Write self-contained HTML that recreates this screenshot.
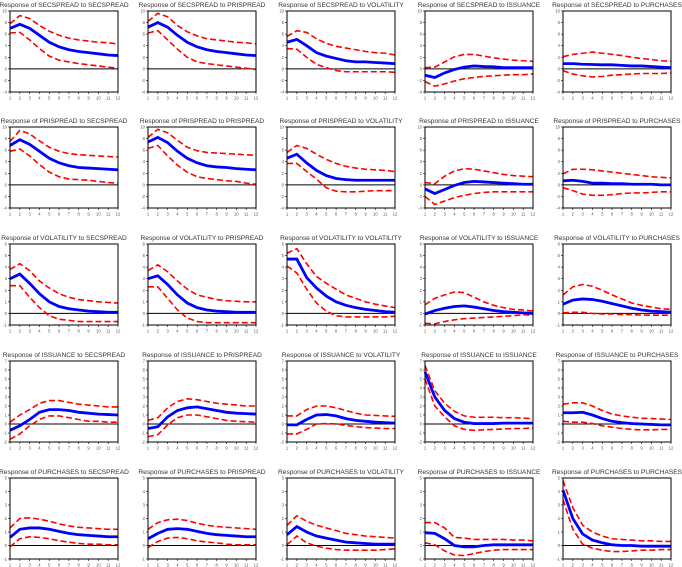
<!DOCTYPE html>
<html><head><meta charset="utf-8">
<style>
html,body{margin:0;padding:0;background:#fff;}
svg{display:block;}
text{font-family:"Liberation Sans",sans-serif;}
</style></head>
<body>
<svg id="chart" width="682" height="567" viewBox="0 0 682 567" xmlns="http://www.w3.org/2000/svg"></svg>
<script>
const varNames = ["SECSPREAD","PRISPREAD","VOLATILITY","ISSUANCE","PURCHASES"];
const periods = [1,2,3,4,5,6,7,8,9,10,11,12];
const rowYMin = [-4,-4,-1,-2,-1];
const rowYMax = [10,10,6,7,5];
const rowYStep = [2,2,1,1,1];

const meanSeries = [
 [[7.0,7.7,7.0,5.8,4.6,3.8,3.3,3.0,2.8,2.6,2.4,2.3],
  [7.2,8.0,7.2,5.8,4.6,3.8,3.3,3.0,2.8,2.6,2.4,2.3],
  [4.6,5.1,4.0,2.8,2.2,1.8,1.4,1.2,1.2,1.1,1.0,0.9],
  [-1.1,-1.5,-0.7,-0.1,0.3,0.5,0.4,0.35,0.2,0.2,0.2,0.2],
  [0.9,0.9,0.8,0.75,0.7,0.7,0.6,0.5,0.5,0.4,0.3,0.2]],
 [[6.8,7.8,7.0,5.8,4.6,3.8,3.3,3.0,2.9,2.8,2.7,2.6],
  [7.4,8.2,7.3,5.8,4.6,3.8,3.3,3.1,3.0,2.8,2.7,2.6],
  [4.6,5.3,3.8,2.5,1.6,1.1,0.9,0.8,0.8,0.8,0.8,0.8],
  [-0.7,-1.5,-0.8,-0.1,0.4,0.6,0.5,0.4,0.3,0.2,0.1,0.1],
  [0.7,0.8,0.6,0.3,0.3,0.2,0.2,0.1,0.1,0.1,0,0]],
 [[3.0,3.4,2.6,1.7,1.0,0.6,0.4,0.3,0.2,0.15,0.1,0.1],
  [3.0,3.25,2.5,1.6,0.9,0.5,0.3,0.2,0.15,0.1,0.1,0.1],
  [4.7,4.7,3.1,2.2,1.5,1.0,0.7,0.5,0.35,0.25,0.15,0.1],
  [-0.05,0.25,0.45,0.6,0.65,0.55,0.4,0.25,0.15,0.1,0.05,0.0],
  [0.8,1.15,1.25,1.2,1.05,0.85,0.65,0.45,0.3,0.2,0.15,0.1]],
 [[-0.7,-0.2,0.5,1.3,1.6,1.6,1.5,1.3,1.2,1.1,1.05,1.0],
  [-0.5,-0.3,0.8,1.5,1.8,1.9,1.7,1.5,1.3,1.2,1.15,1.1],
  [-0.1,-0.1,0.5,1.0,1.05,0.9,0.6,0.4,0.3,0.2,0.15,0.1],
  [5.8,3.0,1.5,0.6,0.2,0.05,0.05,0.05,0.1,0.1,0.1,0.1],
  [1.25,1.25,1.3,1.0,0.6,0.3,0.15,0.05,0,-0.05,-0.1,-0.1]],
 [[0.6,1.2,1.3,1.3,1.2,1.05,0.9,0.8,0.75,0.7,0.65,0.65],
  [0.5,0.9,1.2,1.25,1.2,1.05,0.9,0.8,0.75,0.7,0.65,0.65],
  [0.8,1.4,1.0,0.7,0.55,0.4,0.25,0.2,0.15,0.1,0.1,0.1],
  [0.95,0.9,0.5,0.0,-0.1,-0.1,0.0,0.05,0.05,0.05,0.05,0.05],
  [4.1,2.0,0.85,0.4,0.2,0.05,0,0,-0.05,-0.05,-0.05,-0.05]]
];
const upperSeries = [
 [[7.8,9.2,8.7,7.5,6.5,5.8,5.3,5.0,4.8,4.6,4.5,4.3],
  [8.2,9.6,9.0,7.5,6.4,5.7,5.2,5.0,4.8,4.6,4.5,4.3],
  [5.6,6.6,6.3,5.2,4.4,3.9,3.6,3.3,3.0,2.8,2.7,2.4],
  [0.2,0.3,1.2,2.1,2.5,2.5,2.2,1.9,1.7,1.5,1.4,1.3],
  [2.1,2.5,2.7,2.9,2.7,2.5,2.3,2.0,1.8,1.6,1.4,1.3]],
 [[7.5,9.4,8.8,7.6,6.5,5.8,5.4,5.2,5.1,5.0,4.9,4.8],
  [8.2,9.6,9.0,7.7,6.5,5.9,5.6,5.5,5.4,5.3,5.2,5.1],
  [5.6,6.8,6.3,5.3,4.4,3.7,3.2,2.9,2.7,2.6,2.5,2.3],
  [0.4,0.2,1.5,2.4,2.8,2.7,2.4,2.1,1.8,1.6,1.5,1.4],
  [1.9,2.7,2.7,2.6,2.4,2.2,2.0,1.8,1.6,1.4,1.3,1.2]],
 [[3.8,4.3,3.7,2.8,2.2,1.7,1.4,1.2,1.1,1.0,0.95,0.9],
  [3.7,4.2,3.6,2.8,2.1,1.6,1.4,1.2,1.1,1.05,1.0,1.0],
  [5.2,5.6,4.3,3.2,2.6,2.1,1.6,1.3,1.0,0.8,0.65,0.5],
  [0.75,1.3,1.6,1.85,1.8,1.4,1.0,0.7,0.5,0.35,0.3,0.2],
  [1.6,2.3,2.5,2.35,2.0,1.6,1.25,0.9,0.7,0.55,0.4,0.35]],
 [[0.2,1.0,1.6,2.3,2.6,2.6,2.4,2.2,2.1,2.0,1.9,1.9],
  [0.4,0.7,1.8,2.5,2.8,2.7,2.5,2.3,2.2,2.1,2.0,2.0],
  [0.9,0.9,1.6,2.0,2.0,1.8,1.5,1.2,1.0,0.95,0.9,0.85],
  [6.5,3.7,2.3,1.4,0.9,0.75,0.75,0.75,0.7,0.7,0.65,0.6],
  [2.2,2.35,2.35,2.0,1.5,1.1,0.9,0.75,0.65,0.6,0.55,0.5]],
 [[1.3,2.0,2.05,1.95,1.8,1.6,1.45,1.35,1.3,1.25,1.2,1.2],
  [1.2,1.7,1.9,1.95,1.85,1.65,1.5,1.4,1.35,1.3,1.25,1.2],
  [1.5,2.2,1.8,1.5,1.3,1.1,0.9,0.8,0.7,0.65,0.6,0.55],
  [1.7,1.7,1.3,0.6,0.55,0.45,0.45,0.45,0.45,0.4,0.4,0.35],
  [4.8,2.8,1.5,1.0,0.7,0.5,0.45,0.4,0.35,0.35,0.3,0.3]]
];
const lowerSeries = [
 [[6.2,6.3,5.0,3.5,2.2,1.5,1.2,0.9,0.7,0.5,0.3,0.1],
  [6.2,6.6,5.0,3.4,2.0,1.2,0.9,0.7,0.5,0.3,0.1,-0.1],
  [3.5,3.4,2.0,0.8,0.2,-0.3,-0.5,-0.5,-0.5,-0.5,-0.5,-0.6],
  [-2.2,-3.0,-2.6,-2.1,-1.7,-1.5,-1.3,-1.2,-1.1,-1.0,-1.0,-0.9],
  [-0.3,-0.9,-1.2,-1.4,-1.3,-1.1,-1.0,-0.9,-0.8,-0.8,-0.8,-0.7]],
 [[5.8,6.2,5.0,3.5,2.2,1.4,1.0,0.9,0.8,0.6,0.4,0.3],
  [6.3,6.8,5.0,3.4,2.2,1.4,1.1,0.9,0.7,0.6,0.3,0.1],
  [3.7,3.7,2.3,1.0,-0.5,-1.1,-1.2,-1.2,-1.1,-1.0,-1.0,-1.0],
  [-2.0,-3.4,-2.8,-2.2,-1.8,-1.5,-1.3,-1.2,-1.2,-1.2,-1.2,-1.2],
  [-0.5,-1.0,-1.6,-1.8,-1.8,-1.7,-1.5,-1.4,-1.4,-1.3,-1.2,-1.2]],
 [[2.4,2.4,1.4,0.5,-0.2,-0.5,-0.6,-0.7,-0.7,-0.7,-0.7,-0.7],
  [2.3,2.3,1.3,0.3,-0.4,-0.7,-0.8,-0.8,-0.8,-0.8,-0.8,-0.8],
  [4.1,3.5,2.1,0.9,0.2,-0.2,-0.3,-0.3,-0.3,-0.3,-0.3,-0.25],
  [-0.85,-0.9,-0.7,-0.55,-0.45,-0.4,-0.35,-0.3,-0.25,-0.2,-0.1,-0.15],
  [0.05,0.1,0.1,0.0,-0.05,-0.05,-0.1,-0.1,-0.15,-0.15,-0.15,-0.15]],
 [[-1.7,-1.1,-0.2,0.5,0.9,0.9,0.7,0.5,0.3,0.3,0.2,0.2],
  [-1.4,-1.2,-0.1,0.7,1.0,1.0,0.8,0.6,0.4,0.3,0.25,0.2],
  [-1.1,-1.1,-0.6,0.0,0.05,0.0,-0.15,-0.3,-0.4,-0.45,-0.5,-0.5],
  [5.0,2.0,0.8,-0.2,-0.6,-0.7,-0.65,-0.6,-0.55,-0.5,-0.5,-0.45],
  [0.3,0.2,0.2,0.05,-0.2,-0.35,-0.5,-0.6,-0.65,-0.65,-0.6,-0.6]],
 [[-0.1,0.5,0.65,0.6,0.5,0.35,0.25,0.15,0.1,0.1,0.05,0.05],
  [-0.15,0.3,0.55,0.6,0.5,0.35,0.25,0.2,0.1,0.05,0.05,0.05],
  [0.05,0.7,0.2,-0.05,-0.2,-0.3,-0.35,-0.35,-0.35,-0.35,-0.3,-0.25],
  [0.2,0.05,-0.4,-0.7,-0.75,-0.6,-0.45,-0.35,-0.3,-0.3,-0.3,-0.3],
  [3.4,1.2,0.1,-0.2,-0.35,-0.45,-0.45,-0.4,-0.35,-0.35,-0.3,-0.3]]
];

const NS = "http://www.w3.org/2000/svg";
const svg = document.getElementById("chart");
const colLeft = [10,148,287,425,563];
const rowTop = [11,127,244,361,478];
const PW = 108, PH = 81;

function mk(tag, attrs, parent){
  const e = document.createElementNS(NS, tag);
  for (const k in attrs) e.setAttribute(k, attrs[k]);
  parent.appendChild(e);
  return e;
}

for (let r = 0; r < 5; r++) {
  for (let c = 0; c < 5; c++) {
    const L = colLeft[c], T = rowTop[r];
    const yMin = rowYMin[r], yMax = rowYMax[r];
    const xScale = p => L + (p - 1) / (periods.length - 1) * PW;
    const yScale = v => T + (yMax - v) / (yMax - yMin) * PH;
    const g = mk("g", {}, svg);
    
    

    const t = mk("text", {x: L + PW/2, y: T - 4, "text-anchor": "middle", "font-size": "6.6", fill: "#333"}, g);
    t.textContent = "Response of " + varNames[r] + " to " + varNames[c];
    
    

    for (let v = yMin; v <= yMax + 1e-9; v += rowYStep[r]) {
      const y = yScale(v);
      mk("line", {x1: L - 2, x2: L, y1: y, y2: y, stroke: "#000", "stroke-width": "0.6"}, g);
      const yl = mk("text", {x: L - 3, y: y + 1.5, "text-anchor": "end", "font-size": "4.2", fill: "#555"}, g);
      yl.textContent = String(v);
      
      
    }
    periods.forEach(p => {
      const x = xScale(p);
      mk("line", {x1: x, x2: x, y1: T + PH, y2: T + PH + 2, stroke: "#000", "stroke-width": "0.6"}, g);
      const xl = mk("text", {x: x, y: T + PH + 7.5, "text-anchor": "middle", "font-size": "4.2", fill: "#555"}, g);
      xl.textContent = String(p);
      
      
    });

    const z = mk("line", {x1: L, x2: L + PW, y1: yScale(0), y2: yScale(0), stroke: "#000", "stroke-width": "1"}, g);
    
    

    const pts = arr => arr.map((v, i) => xScale(periods[i]).toFixed(2) + "," + yScale(v).toFixed(2)).join(" ");
    const up = mk("polyline", {points: pts(upperSeries[r][c]), fill: "none", stroke: "#ff0000", "stroke-width": "1.6", "stroke-dasharray": "6,3"}, g);
    
    
    const lo = mk("polyline", {points: pts(lowerSeries[r][c]), fill: "none", stroke: "#ff0000", "stroke-width": "1.6", "stroke-dasharray": "6,3"}, g);
    
    
    const mn = mk("polyline", {points: pts(meanSeries[r][c]), fill: "none", stroke: "#0000ff", "stroke-width": "2.8"}, g);
    
    

    const box = mk("rect", {x: L, y: T, width: PW, height: PH, fill: "none", stroke: "#000", "stroke-width": "1"}, g);
    
    
  }
}
</script>
</body></html>
